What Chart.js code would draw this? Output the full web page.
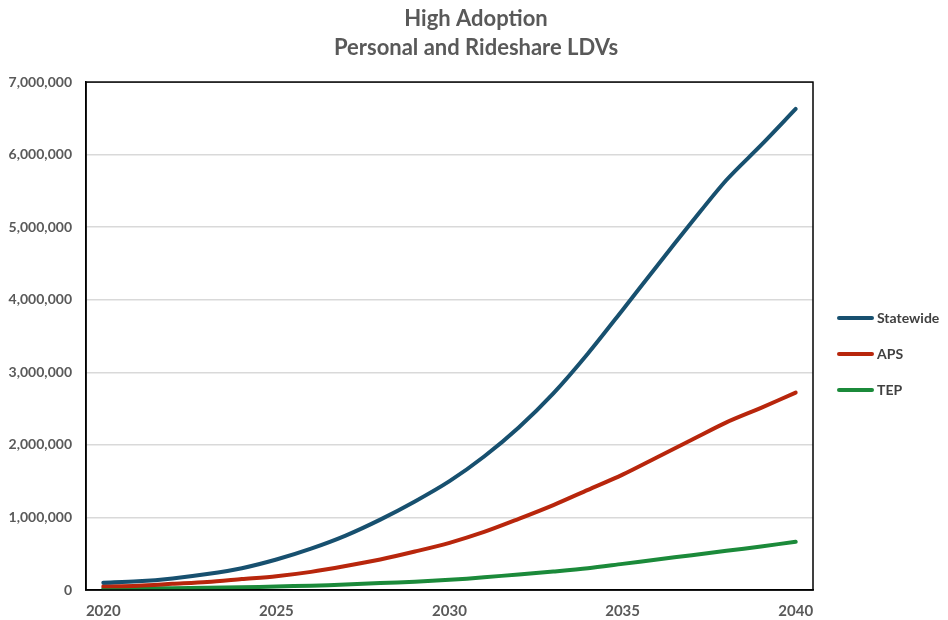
<!DOCTYPE html>
<html>
<head>
<meta charset="utf-8">
<script src="https://cdn.jsdelivr.net/npm/chart.js@4.4.1/dist/chart.umd.min.js"></script>
<style>
  html, body { margin: 0; padding: 0; background: #ffffff; }
  #wrap { width: 948px; height: 620px; }
</style>
</head>
<body>
<div id="wrap"><canvas id="adoptionChart" width="948" height="620"></canvas></div>
<script>
// Years on the x axis
const years = [2020, 2021, 2022, 2023, 2024, 2025, 2026, 2027, 2028, 2029, 2030,
               2031, 2032, 2033, 2034, 2035, 2036, 2037, 2038, 2039, 2040];

// Series values (vehicles)
const statewide = [100000, 120000, 160000, 220000, 300000, 420000, 570000, 750000, 970000, 1220000, 1500000,
                   1840000, 2240000, 2710000, 3260000, 3860000, 4470000, 5070000, 5650000, 6130000, 6630000];
const aps = [50000, 60000, 85000, 110000, 150000, 190000, 250000, 330000, 420000, 530000, 650000,
             800000, 980000, 1170000, 1380000, 1590000, 1830000, 2070000, 2310000, 2510000, 2720000];
const tep = [20000, 22000, 25000, 30000, 38000, 48000, 60000, 75000, 95000, 115000, 140000,
             175000, 215000, 255000, 300000, 360000, 420000, 480000, 540000, 600000, 665000];

// Only these years get a tick label
const labelledYears = [2020, 2025, 2030, 2035, 2040];

const textGray = '#595959';
const fontFamily = "Lato, 'Open Sans', sans-serif";

// Black frame round the plot area
const plotFrame = {
    id: 'plotFrame',
    afterDraw(chart) {
        const { ctx, chartArea } = chart;
        ctx.save();
        ctx.strokeStyle = '#000000';
        ctx.lineWidth = 1.5;
        ctx.strokeRect(chartArea.left, chartArea.top, chartArea.right - chartArea.left, chartArea.bottom - chartArea.top);
        ctx.restore();
    }
};

// Legend to the right of the plot, drawn as short lines with labels
const sideLegend = {
    id: 'sideLegend',
    afterDraw(chart) {
        const { ctx, chartArea } = chart;
        const x0 = chartArea.right + 26;
        ctx.save();
        ctx.font = 'bold 14px ' + fontFamily;
        ctx.textBaseline = 'middle';
        chart.data.datasets.forEach((ds, i) => {
            const y = chartArea.top + 236 + i * 36;
            ctx.strokeStyle = ds.borderColor;
            ctx.lineWidth = 4;
            ctx.lineCap = 'round';
            ctx.beginPath();
            ctx.moveTo(x0, y);
            ctx.lineTo(x0 + 33, y);
            ctx.stroke();
            ctx.fillStyle = '#404040';
            ctx.fillText(ds.label, x0 + 38, y);
        });
        ctx.restore();
    }
};

function makeSeries(label, data, color) {
    return {
        label: label,
        data: data,
        borderColor: color,
        backgroundColor: color,
        borderWidth: 4,
        pointRadius: 0,
        tension: 0.3,
        borderCapStyle: 'round',
        yAxisID: 'y'
    };
}

const ctx = document.getElementById('adoptionChart').getContext('2d');
new Chart(ctx, {
    type: 'line',
    data: {
        labels: years,
        datasets: [
            makeSeries('Statewide', statewide, '#17506f'),
            makeSeries('APS', aps, '#b8260c'),
            makeSeries('TEP', tep, '#1b8a3a')
        ]
    },
    options: {
        responsive: false,
        animation: false,
        layout: { padding: { left: 4, right: 0, top: 2, bottom: 0 } },
        plugins: {
            title: {
                display: true,
                text: ['High Adoption', 'Personal and Rideshare LDVs'],
                color: textGray,
                font: { family: fontFamily, size: 22, weight: 'bold', lineHeight: 1.32 },
                padding: { top: 2, bottom: 20 }
            },
            legend: { display: false },
            tooltip: { enabled: false }
        },
        scales: {
            x: {
                offset: true,
                grid: { display: false },
                border: { color: '#000000', width: 1.5 },
                ticks: {
                    autoSkip: false,
                    maxRotation: 0,
                    color: textGray,
                    font: { family: fontFamily, size: 15, weight: 'bold' },
                    padding: 4,
                    callback: function (value, index) {
                        const yr = years[index];
                        return labelledYears.includes(yr) ? String(yr) : '';
                    }
                },
                afterFit: scale => { scale.height = 30; }
            },
            y: {
                min: 0,
                max: 7000000,
                grid: { color: '#d9d9d9', lineWidth: 1.5, drawTicks: false },
                border: { color: '#000000', width: 1.5 },
                ticks: {
                    stepSize: 1000000,
                    color: textGray,
                    font: { family: fontFamily, size: 14, weight: 'bold' },
                    padding: 14,
                    callback: v => v.toLocaleString('en-US')
                },
                afterFit: scale => { scale.width = 82; }
            },
            // empty axis that reserves room on the right for the legend
            legendSpace: {
                type: 'linear',
                position: 'right',
                grid: { display: false },
                border: { display: false },
                ticks: { display: false },
                afterFit: scale => { scale.width = 135; }
            }
        }
    },
    plugins: [plotFrame, sideLegend]
});
</script>
</body>
</html>
